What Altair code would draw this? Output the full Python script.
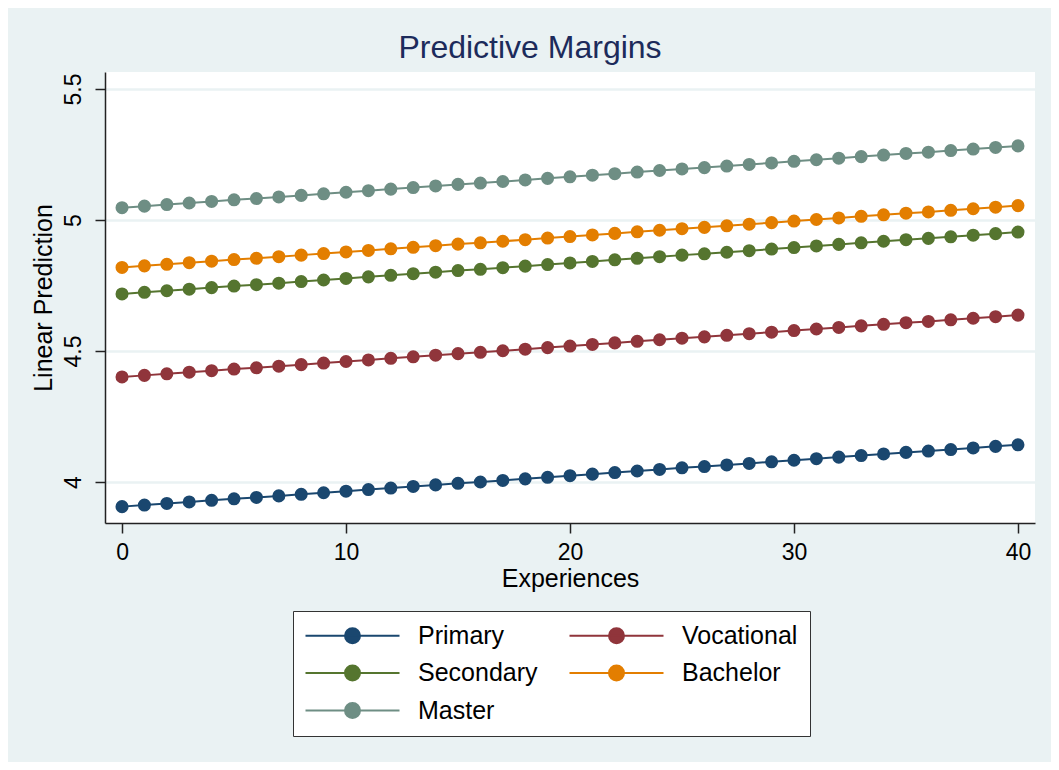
import altair as alt
import pandas as pd

experiences = [0, 1, 2, 3, 4, 5, 6, 7, 8, 9, 10, 11, 12, 13, 14, 15, 16, 17, 18, 19, 20,
               21, 22, 23, 24, 25, 26, 27, 28, 29, 30, 31, 32, 33, 34, 35, 36, 37, 38, 39, 40]

primary = [3.906, 3.912, 3.918, 3.924, 3.930, 3.936, 3.941, 3.947, 3.953, 3.959, 3.965,
           3.971, 3.977, 3.983, 3.989, 3.995, 4.000, 4.006, 4.012, 4.018, 4.024,
           4.030, 4.036, 4.042, 4.048, 4.054, 4.059, 4.065, 4.071, 4.077, 4.083,
           4.089, 4.095, 4.101, 4.107, 4.113, 4.118, 4.124, 4.130, 4.136, 4.142]
vocational = [4.401, 4.407, 4.413, 4.419, 4.425, 4.431, 4.436, 4.442, 4.448, 4.454, 4.460,
              4.466, 4.472, 4.478, 4.484, 4.490, 4.495, 4.501, 4.507, 4.513, 4.519,
              4.525, 4.531, 4.537, 4.543, 4.549, 4.554, 4.560, 4.566, 4.572, 4.578,
              4.584, 4.590, 4.596, 4.602, 4.608, 4.613, 4.619, 4.625, 4.631, 4.637]
secondary = [4.718, 4.724, 4.730, 4.736, 4.742, 4.748, 4.753, 4.759, 4.765, 4.771, 4.777,
             4.783, 4.789, 4.795, 4.801, 4.807, 4.812, 4.818, 4.824, 4.830, 4.836,
             4.842, 4.848, 4.854, 4.860, 4.866, 4.871, 4.877, 4.883, 4.889, 4.895,
             4.901, 4.907, 4.913, 4.919, 4.925, 4.930, 4.936, 4.942, 4.948, 4.954]
bachelor = [4.819, 4.825, 4.831, 4.837, 4.843, 4.849, 4.854, 4.860, 4.866, 4.872, 4.878,
            4.884, 4.890, 4.896, 4.902, 4.908, 4.913, 4.919, 4.925, 4.931, 4.937,
            4.943, 4.949, 4.955, 4.961, 4.967, 4.972, 4.978, 4.984, 4.990, 4.996,
            5.002, 5.008, 5.014, 5.020, 5.026, 5.031, 5.037, 5.043, 5.049, 5.055]
master = [5.047, 5.053, 5.059, 5.065, 5.071, 5.077, 5.082, 5.088, 5.094, 5.100, 5.106,
          5.112, 5.118, 5.124, 5.130, 5.136, 5.141, 5.147, 5.153, 5.159, 5.165,
          5.171, 5.177, 5.183, 5.189, 5.195, 5.200, 5.206, 5.212, 5.218, 5.224,
          5.230, 5.236, 5.242, 5.248, 5.254, 5.259, 5.265, 5.271, 5.277, 5.283]

categories = ["Primary", "Vocational", "Secondary", "Bachelor", "Master"]
colors = ["#1A476F", "#90353B", "#55752F", "#E37E00", "#6E8E84"]
series = [primary, vocational, secondary, bachelor, master]

x_ticks = [0, 10, 20, 30, 40]
y_ticks = [4, 4.5, 5, 5.5]

rows = []
for name, vals in zip(categories, series):
    for xv, yv in zip(experiences, vals):
        rows.append({"Experiences": xv, "Prediction": yv, "Level": name})
df = pd.DataFrame(rows)

FONT = "Liberation Sans"

x_enc = alt.X("Experiences:Q",
              scale=alt.Scale(domain=[-0.76, 40.76], nice=False, zero=False),
              axis=alt.Axis(values=x_ticks, title="Experiences", grid=False,
                            tickSize=10, labelPadding=8, titlePadding=2,
                            labelFontSize=23, titleFontSize=25,
                            labelFont=FONT, titleFont=FONT,
                            labelColor="#000", titleColor="#000",
                            domainColor="#222", tickColor="#222",
                            domainWidth=1.5, tickWidth=1.5, titleFontWeight="normal"))
y_enc = alt.Y("Prediction:Q",
              scale=alt.Scale(domain=[3.8435, 5.565], nice=False, zero=False),
              axis=alt.Axis(values=y_ticks, format="~g", title="Linear Prediction",
                            grid=True, gridColor="#EAF2F3", gridWidth=2.5,
                            tickSize=10, labelPadding=10, labelAngle=270,
                            labelAlign="center", labelBaseline="bottom",
                            titlePadding=6,
                            labelFontSize=23, titleFontSize=25,
                            labelFont=FONT, titleFont=FONT,
                            labelColor="#000", titleColor="#000",
                            domainColor="#222", tickColor="#222",
                            domainWidth=1.5, tickWidth=1.5, titleFontWeight="normal"))

# legend symbol: horizontal line with a filled dot in the middle (unit = 10px)
sym = "M-1.2,0L8.2,0M2.75,0A0.75,0.75,0,1,1,4.25,0A0.75,0.75,0,1,1,2.75,0Z"

color_enc = alt.Color("Level:N",
                      scale=alt.Scale(domain=categories, range=colors),
                      sort=categories,
                      legend=alt.Legend(title=None, orient="none", legendX=188, legendY=539,
                                        columns=2, direction="horizontal",
                                        symbolType=sym, symbolSize=400,
                                        symbolStrokeWidth=2,
                                        labelFontSize=25, labelFont=FONT, labelColor="#000",
                                        labelOffset=88, columnPadding=27, rowPadding=11.5,
                                        padding=12, fillColor="white",
                                        strokeColor="#333", labelLimit=300))

base = alt.Chart(df)
lines = base.mark_line(strokeWidth=2).encode(x=x_enc, y=y_enc, color=color_enc)
points = base.mark_circle(size=170, opacity=1).encode(x=x_enc, y=y_enc, color=color_enc)

chart = alt.layer(lines, points).properties(
    width=930, height=451,
    title=alt.TitleParams("Predictive Margins", font=FONT, fontSize=32,
                          fontWeight="normal", color="#1C2B5B", anchor="middle",
                          dx=-40, offset=7),
    autosize=alt.AutoSizeParams(type="none"),
    padding={"left": 97, "top": 64, "right": 16, "bottom": 239},
    background="#EAF2F3",
).configure_view(fill="white", stroke=None)

chart.save("out.html", embed_options={"renderer": "svg", "actions": False})
